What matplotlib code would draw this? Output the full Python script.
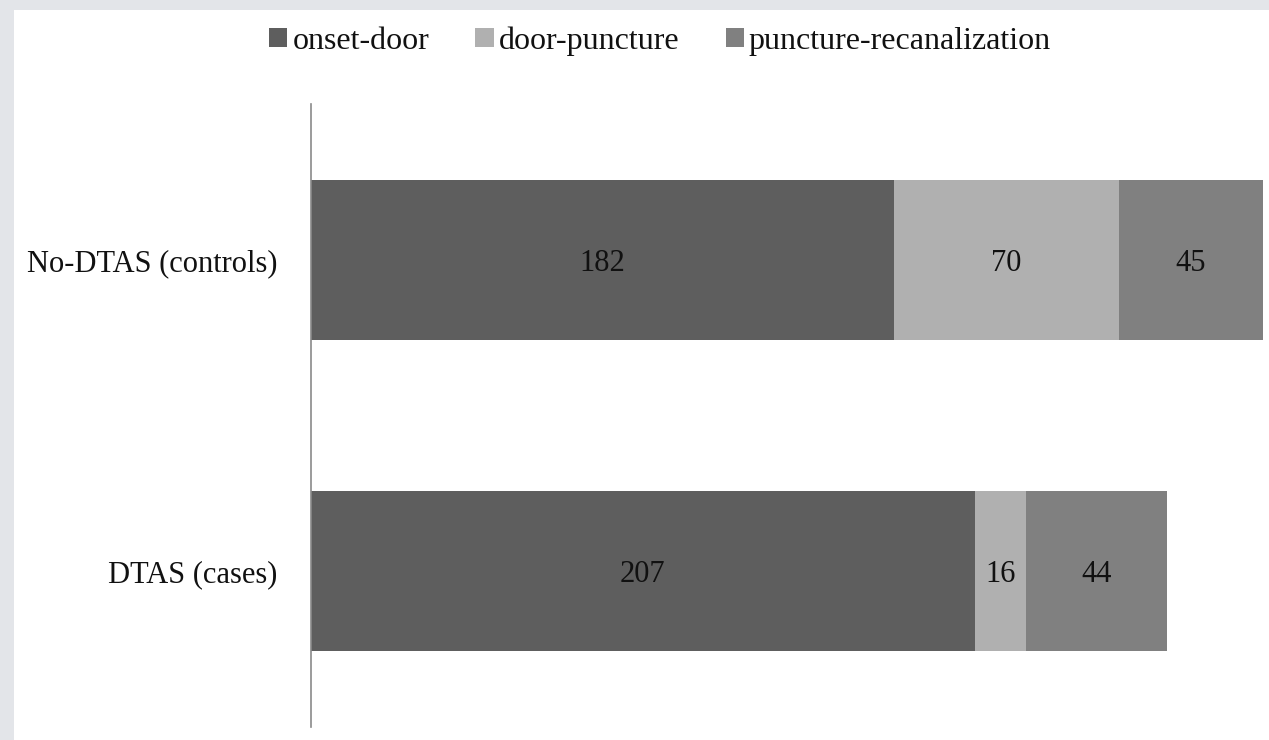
import matplotlib
matplotlib.use("Agg")
import matplotlib.pyplot as plt
from matplotlib.patches import Rectangle

# Stacked time intervals (minutes) per group
groups = ["DTAS (cases)", "No-DTAS (controls)"]
series_names = ["onset-door", "door-puncture", "puncture-recanalization"]
onset_door = [207, 182]
door_puncture = [16, 70]
puncture_recan = [44, 45]
series_values = [onset_door, door_puncture, puncture_recan]
series_colors = ["#5e5e5e", "#b0b0b0", "#808080"]

plt.rcParams["font.family"] = ["Liberation Serif", "DejaVu Serif"]

W, H = 1269, 740
fig = plt.figure(figsize=(W / 100, H / 100), dpi=100)
fig.patch.set_facecolor("#e3e5e9")
# white sheet inside the grey frame
fig.patches.append(Rectangle((14 / W, 0), 1 - 14 / W, 1 - 10 / H,
                             transform=fig.transFigure, facecolor="white",
                             edgecolor="none", zorder=-1))

ax = fig.add_axes([311 / W, 1 - 727 / H, (1263 - 311) / W, (727 - 104) / H])
ax.set_zorder(2)
ax.set_facecolor("none")

left = [0] * len(groups)
for name, vals, col in zip(series_names, series_values, series_colors):
    bars = ax.barh(groups, vals, left=left, height=0.515, color=col,
                   edgecolor="none", label=name)
    for b, v in zip(bars, vals):
        ax.text(b.get_x() + b.get_width() / 2, b.get_y() + b.get_height() / 2,
                str(v), ha="center", va="center_baseline", fontsize=22,
                color="#111111")
    left = [l + v for l, v in zip(left, vals)]

ax.set_xlim(0, 297)
ax.set_ylim(-0.5, 1.5)
for s in ["top", "right", "bottom"]:
    ax.spines[s].set_visible(False)
ax.spines["left"].set_color("#8a8a8a")
ax.spines["left"].set_linewidth(1.2)
ax.set_xticks([])
ax.tick_params(axis="y", length=0, pad=24, labelsize=22, labelcolor="#111111")

leg = fig.legend(loc="center", bbox_to_anchor=(660 / W, 1 - 41 / H), ncol=3,
                 frameon=False, fontsize=23, handlelength=0.58, handleheight=0.58,
                 handletextpad=0.15, columnspacing=1.45, labelcolor="#111111")

fig.savefig("out.png", dpi=100, facecolor=fig.get_facecolor())
